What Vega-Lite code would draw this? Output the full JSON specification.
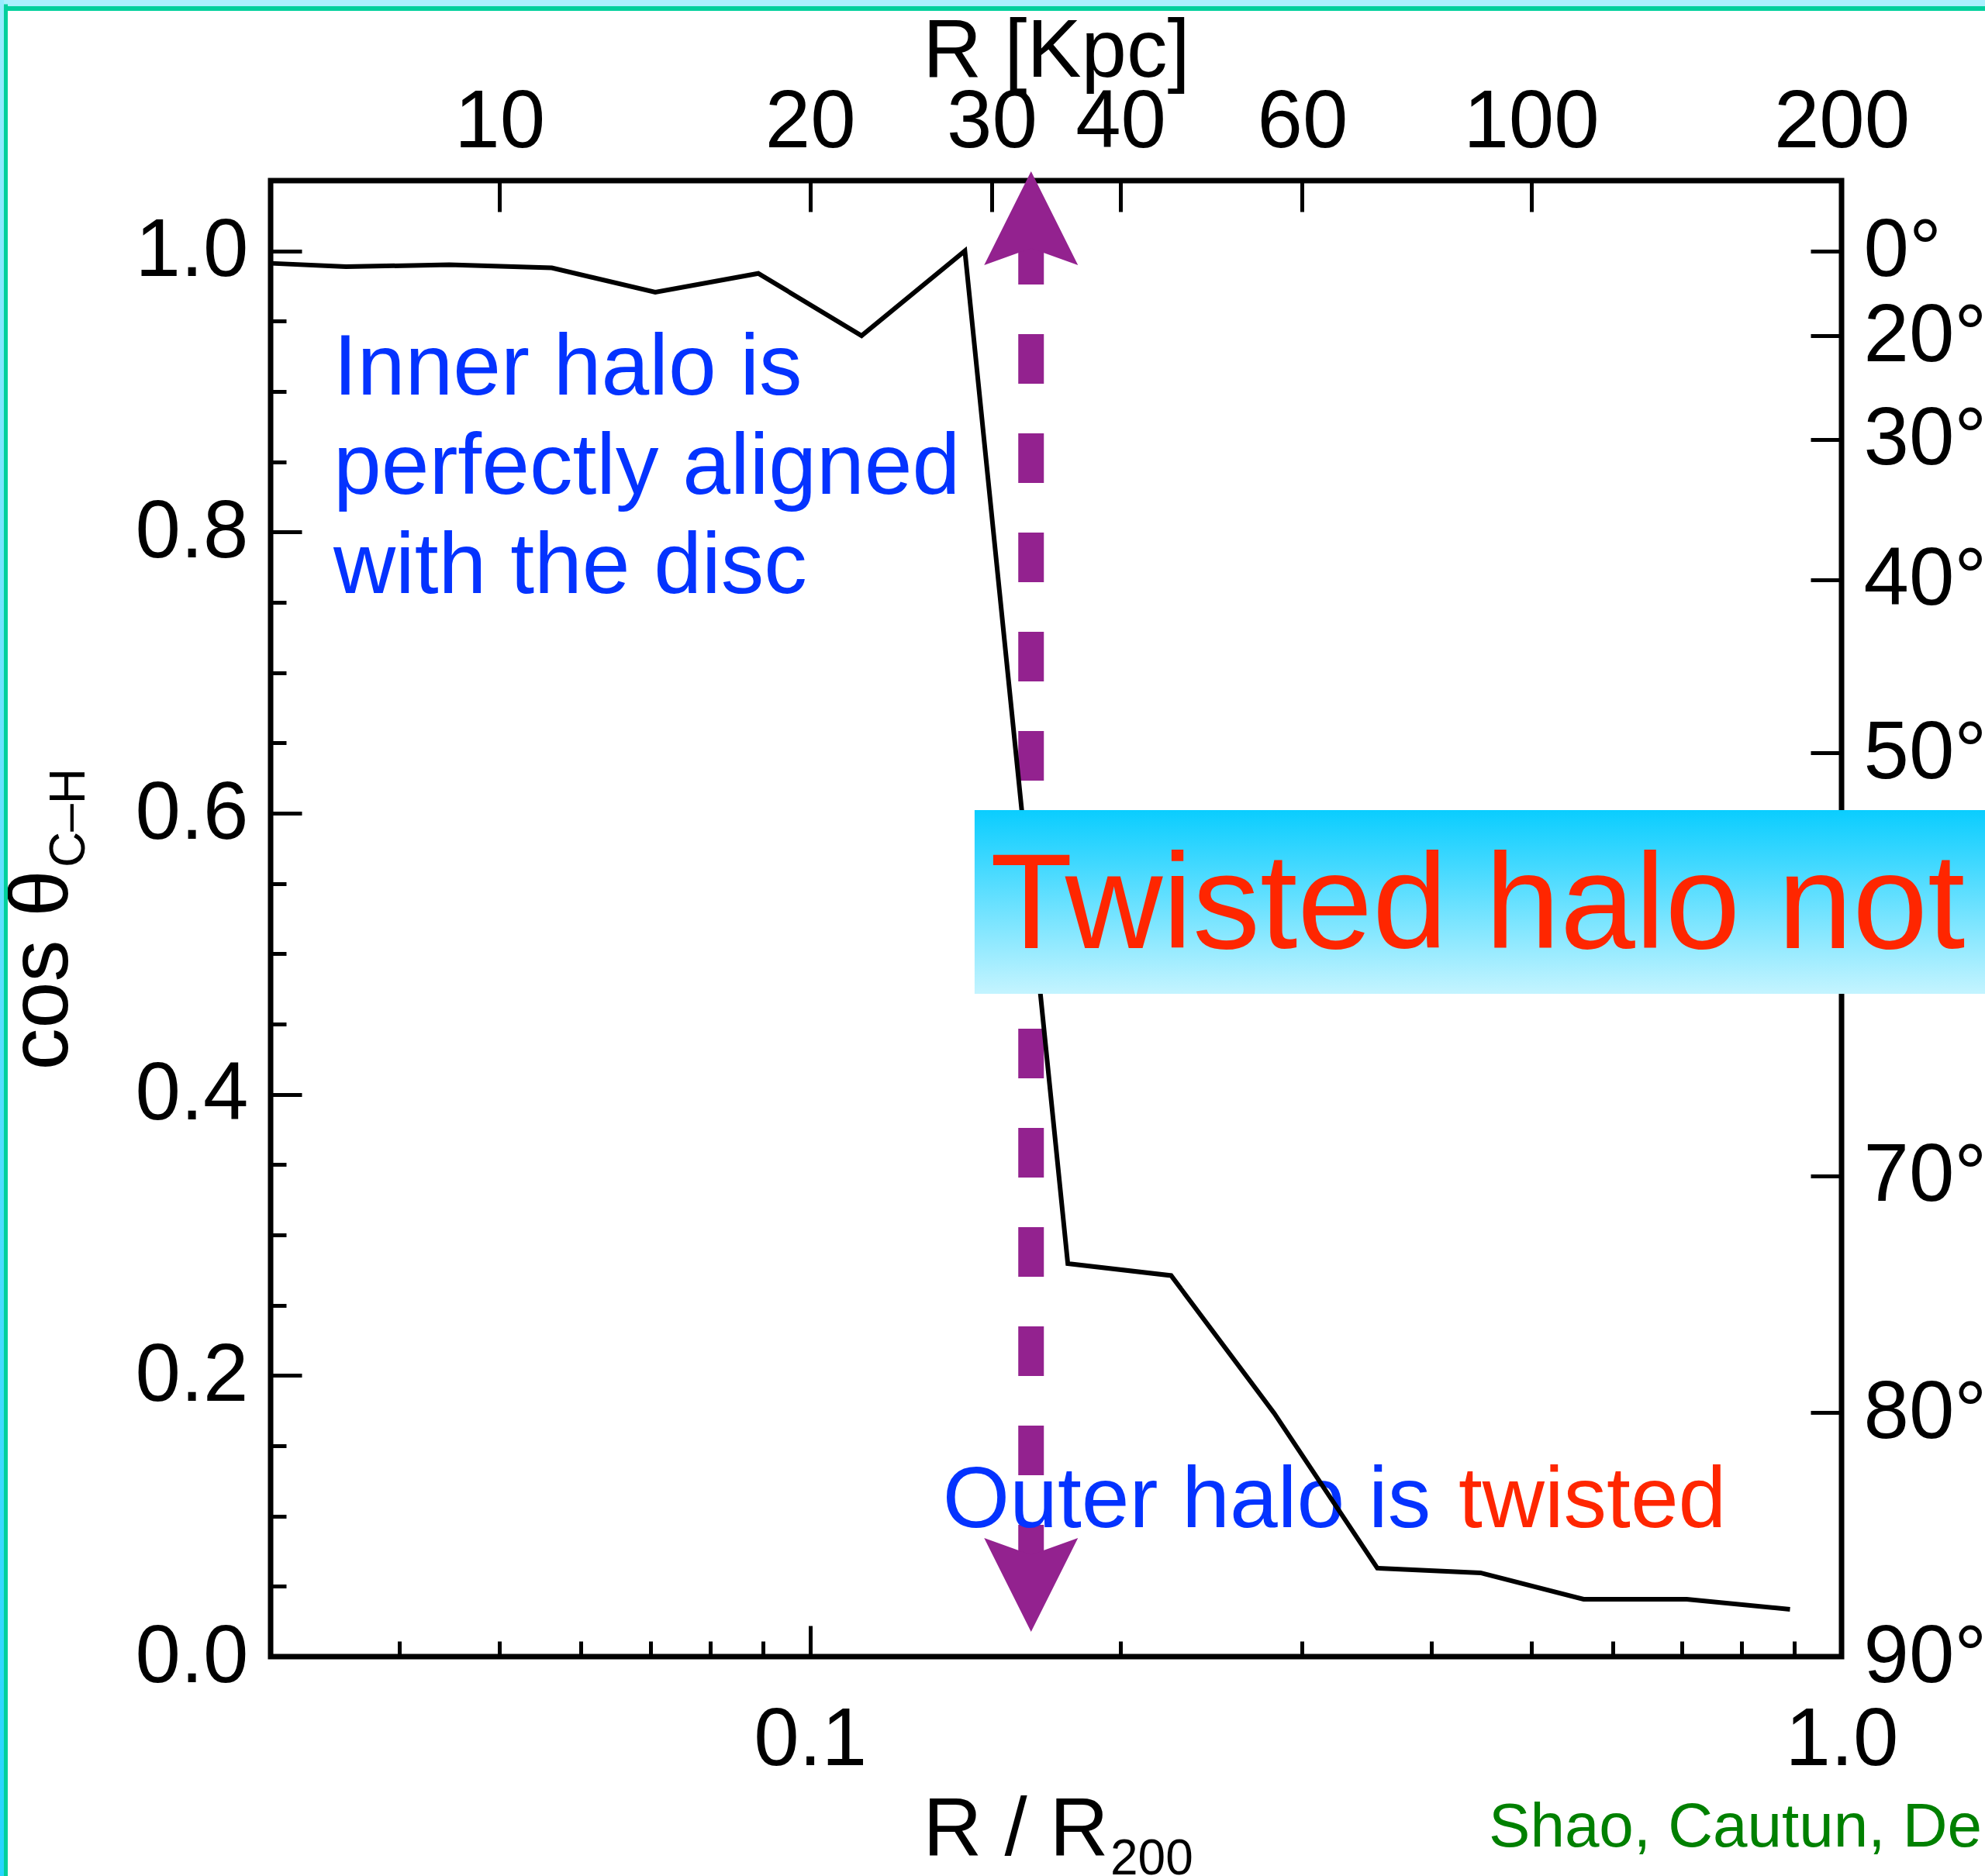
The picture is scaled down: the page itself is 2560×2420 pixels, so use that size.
{
  "$schema": "https://vega.github.io/schema/vega-lite/v6.json",
  "width": 2026,
  "height": 1904,
  "autosize": {"type": "none"},
  "padding": {"left": 349, "top": 233, "right": 185, "bottom": 283},
  "background": "white",
  "config": {
    "view": {"stroke": "black", "strokeWidth": 7},
    "font": "Liberation Sans",
    "axis": {
      "grid": false, "domain": false,
      "labelFont": "Liberation Sans", "labelFontSize": 105, "labelColor": "black",
      "titleFont": "Liberation Sans", "titleFontSize": 105, "titleFontWeight": "normal", "titleColor": "black",
      "tickColor": "black", "tickWidth": 5,
      "labelFlush": false, "labelOverlap": false, "labelBound": false
    },
    "text": {"font": "Liberation Sans"}
  },
  "resolve": {"scale": {"x": "independent", "y": "independent"}},
  "layer": [
    {
      "data": {"values": [{}]},
      "mark": {"type": "point", "opacity": 0},
      "encoding": {
        "x": {"datum": 0.1, "type": "quantitative", "scale": {"type": "log", "domain": [0.03, 1], "nice": false},
              "axis": {"orient": "bottom", "values": [0.1, 1], "format": ".1f", "tickSize": -40, "labelPadding": 179, "labelBaseline": "alphabetic",
                       "title": "R / R", "titleX": 841, "titleY": 255, "titleAlign": "left", "titleBaseline": "alphabetic"}},
        "y": {"datum": 0.5, "type": "quantitative", "scale": {"domain": [0, 1.05], "nice": false, "zero": false},
              "axis": {"orient": "left", "values": [0, 0.2, 0.4, 0.6, 0.8, 1], "format": ".1f", "tickSize": -40, "labelPadding": 69, "labelBaseline": "middle",
                       "title": "cos θ", "titleX": -263, "titleY": 1147, "titleAlign": "left", "titleBaseline": "alphabetic", "titleFontSize": 108}}
      }
    },
    {
      "data": {"values": [{}]},
      "mark": {"type": "point", "opacity": 0},
      "encoding": {
        "x": {"datum": 0.1, "type": "quantitative", "scale": {"type": "log", "domain": [0.03, 1], "nice": false},
              "axis": {"orient": "bottom", "values": [0.04, 0.05, 0.06, 0.07, 0.08, 0.09, 0.2, 0.3, 0.4, 0.5, 0.6, 0.7, 0.8, 0.9], "labels": false, "tickSize": -20, "title": null}},
        "y": {"datum": 0.5, "type": "quantitative", "scale": {"domain": [0, 1.05], "nice": false, "zero": false},
              "axis": {"orient": "left", "values": [0.05, 0.1, 0.15, 0.25, 0.3, 0.35, 0.45, 0.5, 0.55, 0.65, 0.7, 0.75, 0.85, 0.9, 0.95], "labels": false, "tickSize": -20, "title": null}}
      }
    },
    {
      "data": {"values": [{}]},
      "mark": {"type": "point", "opacity": 0},
      "encoding": {
        "x": {"datum": 20, "type": "quantitative", "scale": {"type": "log", "domain": [6, 200], "nice": false},
              "axis": {"orient": "top", "values": [10, 20, 30, 40, 60, 100, 200], "format": "d", "tickSize": -40, "labelPadding": 84, "labelBaseline": "alphabetic",
                       "title": "R [Kpc]", "titleY": -135, "titleBaseline": "alphabetic"}},
        "y": {"datum": 0.5, "type": "quantitative", "scale": {"domain": [0, 1.05], "nice": false, "zero": false},
              "axis": {"orient": "right", "values": [1, 0.9397, 0.866, 0.766, 0.6428, 0.5, 0.342, 0.1736, 0],
                       "labelExpr": "round(acos(datum.value)*180/PI) + '°'", "tickSize": -40, "labelPadding": 68, "labelAlign": "left", "labelBaseline": "middle", "title": null}}
      }
    },
    {
      "layer": [
        {
          "data": {"values": [{"r1": 0.005, "r2": 3, "c1": 1.4, "c2": 1.1741}]},
          "mark": {"type": "rect", "fill": "#aaf0fe"},
          "encoding": {
            "x": {"field": "r1", "type": "quantitative", "scale": {"type": "log", "domain": [0.03, 1], "nice": false}, "axis": null},
            "x2": {"field": "r2"},
            "y": {"field": "c1", "type": "quantitative", "scale": {"domain": [0, 1.05], "nice": false, "zero": false}, "axis": null},
            "y2": {"field": "c2"}
          }
        },
        {
          "data": {"values": [{"r1": 0.005, "r2": 0.01654, "c1": 1.4, "c2": -0.4}]},
          "mark": {"type": "rect", "fill": {"gradient": "linear", "x1": 0, "y1": 0, "x2": 0, "y2": 1, "stops": [{"offset": 0, "color": "#aaf0fe"}, {"offset": 1, "color": "#10d0ff"}]}},
          "encoding": {
            "x": {"field": "r1", "type": "quantitative", "scale": {"type": "log", "domain": [0.03, 1], "nice": false}, "axis": null},
            "x2": {"field": "r2"},
            "y": {"field": "c1", "type": "quantitative", "scale": {"domain": [0, 1.05], "nice": false, "zero": false}, "axis": null},
            "y2": {"field": "c2"}
          }
        },
        {
          "data": {"values": [{"r1": 0.01654, "r2": 3, "c": 1.1724}]},
          "mark": {"type": "rule", "color": "#00d09c", "strokeWidth": 6},
          "encoding": {
            "x": {"field": "r1", "type": "quantitative", "scale": {"type": "log", "domain": [0.03, 1], "nice": false}, "axis": null},
            "x2": {"field": "r2"},
            "y": {"field": "c", "type": "quantitative", "scale": {"domain": [0, 1.05], "nice": false, "zero": false}, "axis": null}
          }
        },
        {
          "data": {"values": [{"r": 0.016612, "c1": 1.1755, "c2": -0.4}]},
          "mark": {"type": "rule", "color": "#00d09c", "strokeWidth": 5},
          "encoding": {
            "x": {"field": "r", "type": "quantitative", "scale": {"type": "log", "domain": [0.03, 1], "nice": false}, "axis": null},
            "y": {"field": "c1", "type": "quantitative", "scale": {"domain": [0, 1.05], "nice": false, "zero": false}, "axis": null},
            "y2": {"field": "c2"}
          }
        },
        {
          "data": {"values": [{"r": 0.1638, "top": 1.0114, "bottom": 0.0585}]},
          "mark": {"type": "rule", "color": "#93228f", "strokeWidth": 33, "strokeDash": [64, 64], "strokeCap": "butt"},
          "encoding": {
            "x": {"field": "r", "type": "quantitative", "scale": {"type": "log", "domain": [0.03, 1], "nice": false}, "axis": null},
            "y": {"field": "top", "type": "quantitative", "scale": {"domain": [0, 1.05], "nice": false, "zero": false}, "axis": null},
            "y2": {"field": "bottom"}
          }
        },
        {
          "data": {"values": [{"r": 0.1638, "c": 1.0233, "dir": "up"}, {"r": 0.1638, "c": 0.0510, "dir": "down"}]},
          "mark": {"type": "point", "filled": true, "fill": "#93228f", "opacity": 1, "strokeWidth": 0, "size": 14641},
          "encoding": {
            "x": {"field": "r", "type": "quantitative", "scale": {"type": "log", "domain": [0.03, 1], "nice": false}, "axis": null},
            "y": {"field": "c", "type": "quantitative", "scale": {"domain": [0, 1.05], "nice": false, "zero": false}, "axis": null},
            "shape": {"field": "dir", "type": "nominal", "scale": {"domain": ["up", "down"], "range": ["M0,-1L1,1L0,0.64L-1,1Z", "M0,1L1,-1L0,-0.64L-1,-1Z"]}, "legend": null}
          }
        },
        {
          "data": {"values": [
            {"r": 0.03451, "c": 0.8978, "t": "Inner halo is"},
            {"r": 0.03451, "c": 0.8272, "t": "perfectly aligned"},
            {"r": 0.03451, "c": 0.7566, "t": "with the disc"},
            {"r": 0.1345, "c": 0.0921, "t": "Outer halo is"}
          ]},
          "mark": {"type": "text", "align": "left", "baseline": "alphabetic", "fontSize": 111, "color": "#0433ff", "font": "Liberation Sans"},
          "encoding": {
            "x": {"field": "r", "type": "quantitative", "scale": {"type": "log", "domain": [0.03, 1], "nice": false}, "axis": null},
            "y": {"field": "c", "type": "quantitative", "scale": {"domain": [0, 1.05], "nice": false, "zero": false}, "axis": null},
            "text": {"field": "t"}
          }
        },
        {
          "data": {"values": [{"r": 0.4252, "c": 0.0921, "t": "twisted"}]},
          "mark": {"type": "text", "align": "left", "baseline": "alphabetic", "fontSize": 111, "color": "#ff2600", "font": "Liberation Sans"},
          "encoding": {
            "x": {"field": "r", "type": "quantitative", "scale": {"type": "log", "domain": [0.03, 1], "nice": false}, "axis": null},
            "y": {"field": "c", "type": "quantitative", "scale": {"domain": [0, 1.05], "nice": false, "zero": false}, "axis": null},
            "text": {"field": "t"}
          }
        },
        {
          "data": {"values": [
            {"r": 0.0300, "c": 0.9912}, {"r": 0.0355, "c": 0.9888}, {"r": 0.0447, "c": 0.9901},
            {"r": 0.0562, "c": 0.9879}, {"r": 0.0708, "c": 0.9706}, {"r": 0.0891, "c": 0.9840},
            {"r": 0.1122, "c": 0.9397}, {"r": 0.1413, "c": 1.0000}, {"r": 0.1778, "c": 0.2796},
            {"r": 0.2239, "c": 0.2711}, {"r": 0.2818, "c": 0.1732}, {"r": 0.3548, "c": 0.0629},
            {"r": 0.4467, "c": 0.0596}, {"r": 0.5623, "c": 0.0408}, {"r": 0.7079, "c": 0.0408},
            {"r": 0.8913, "c": 0.0337}
          ]},
          "mark": {"type": "line", "color": "black", "strokeWidth": 6},
          "encoding": {
            "x": {"field": "r", "type": "quantitative", "scale": {"type": "log", "domain": [0.03, 1], "nice": false}, "axis": null},
            "y": {"field": "c", "type": "quantitative", "scale": {"domain": [0, 1.05], "nice": false, "zero": false}, "axis": null}
          }
        },
        {
          "data": {"values": [{"r1": 0.1444, "r2": 1.6, "c1": 0.6022, "c2": 0.4715}]},
          "mark": {"type": "rect", "fill": {"gradient": "linear", "x1": 0, "y1": 0, "x2": 0, "y2": 1, "stops": [{"offset": 0, "color": "#0acdff"}, {"offset": 1, "color": "#c4f4ff"}]}},
          "encoding": {
            "x": {"field": "r1", "type": "quantitative", "scale": {"type": "log", "domain": [0.03, 1], "nice": false}, "axis": null},
            "x2": {"field": "r2"},
            "y": {"field": "c1", "type": "quantitative", "scale": {"domain": [0, 1.05], "nice": false, "zero": false}, "axis": null},
            "y2": {"field": "c2"}
          }
        },
        {
          "data": {"values": [{"r": 0.1495, "c": 0.5040, "t": "Twisted halo not"}]},
          "mark": {"type": "text", "align": "left", "baseline": "alphabetic", "fontSize": 174, "color": "#ff2600", "font": "Liberation Sans"},
          "encoding": {
            "x": {"field": "r", "type": "quantitative", "scale": {"type": "log", "domain": [0.03, 1], "nice": false}, "axis": null},
            "y": {"field": "c", "type": "quantitative", "scale": {"domain": [0, 1.05], "nice": false, "zero": false}, "axis": null},
            "text": {"field": "t"}
          }
        },
        {
          "data": {"values": [{"r": 0.4550, "c": -0.1351, "t": "Shao, Cautun, De"}]},
          "mark": {"type": "text", "align": "left", "baseline": "alphabetic", "fontSize": 80, "color": "#008000", "font": "Liberation Sans"},
          "encoding": {
            "x": {"field": "r", "type": "quantitative", "scale": {"type": "log", "domain": [0.03, 1], "nice": false}, "axis": null},
            "y": {"field": "c", "type": "quantitative", "scale": {"domain": [0, 1.05], "nice": false, "zero": false}, "axis": null},
            "text": {"field": "t"}
          }
        },
        {
          "data": {"values": [{"r": 0.1955, "c": -0.1550, "t": "200"}]},
          "mark": {"type": "text", "align": "left", "baseline": "alphabetic", "fontSize": 64, "color": "black", "font": "Liberation Sans"},
          "encoding": {
            "x": {"field": "r", "type": "quantitative", "scale": {"type": "log", "domain": [0.03, 1], "nice": false}, "axis": null},
            "y": {"field": "c", "type": "quantitative", "scale": {"domain": [0, 1.05], "nice": false, "zero": false}, "axis": null},
            "text": {"field": "t"}
          }
        },
        {
          "data": {"values": [{"r": 0.01980, "c": 0.5614, "t": "C–H"}]},
          "mark": {"type": "text", "align": "left", "baseline": "alphabetic", "fontSize": 64, "color": "black", "angle": 270, "font": "Liberation Sans"},
          "encoding": {
            "x": {"field": "r", "type": "quantitative", "scale": {"type": "log", "domain": [0.03, 1], "nice": false}, "axis": null},
            "y": {"field": "c", "type": "quantitative", "scale": {"domain": [0, 1.05], "nice": false, "zero": false}, "axis": null},
            "text": {"field": "t"}
          }
        }
      ]
    }
  ]
}
